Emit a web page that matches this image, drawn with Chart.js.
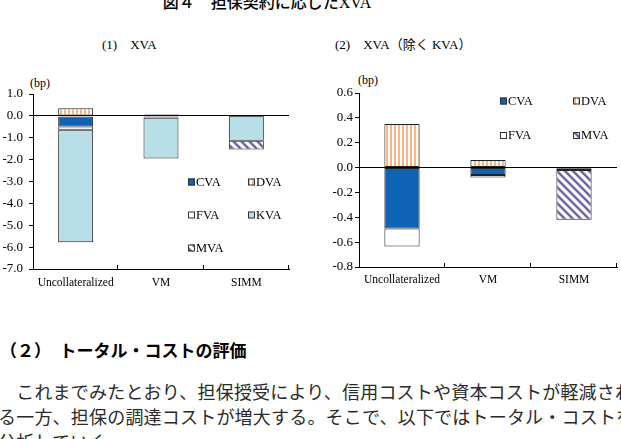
<!DOCTYPE html>
<html>
<head>
<meta charset="utf-8">
<script src="https://cdn.jsdelivr.net/npm/chart.js@4"></script>
<style>
  body { margin: 0; background: #fff; width: 621px; height: 439px; overflow: hidden; position: relative; }
  .txt { position: absolute; white-space: nowrap; color: #000; }
  .serif { font-family: "Liberation Serif", "Noto Sans CJK JP", serif; }
  .box { position: absolute; }
</style>
</head>
<body>
<div class="txt" style="left:0;width:534px;text-align:center;top:-7px;font:500 16px/17px 'Noto Sans CJK JP',sans-serif;">図４　担保契約に応じた<span style="font-family:'Liberation Serif'">XVA</span></div>
<div class="txt serif" style="left:102px;top:37px;font-size:13px;line-height:16px;">(1)　XVA</div>
<div class="txt serif" style="left:335px;top:37px;font-size:13px;line-height:16px;">(2)　XVA（除く KVA）</div>
<div class="txt serif" style="left:30px;top:76px;font-size:12px;line-height:15px;">(bp)</div>
<div class="txt serif" style="left:358px;top:73px;font-size:12px;line-height:15px;">(bp)</div>

<div class="box" style="left:0;top:60px;width:300px;height:235px;"><canvas id="chart1"></canvas></div>
<div class="box" style="left:310px;top:60px;width:311px;height:235px;"><canvas id="chart2"></canvas></div>

<div class="txt" style="left:0;top:340px;font:bold 17px/20px 'Noto Sans CJK JP',sans-serif;">（２）　トータル・コストの評価</div>
<div class="txt" style="left:-2px;top:379px;font:18px/25px 'Noto Sans CJK JP',sans-serif;letter-spacing:0.2px;color:#2a2a2a;">
　これまでみたとおり、担保授受により、信用コストや資本コストが軽減され<br>
る一方、担保の調達コストが増大する。そこで、以下ではトータル・コストを<br>
分析していく。
</div>

<script>
// values (bp)
const categories = ['Uncollateralized', 'VM', 'SIMM'];
const cva = [-0.49, -0.06, -0.01];
const dva = [0.35, 0.06, 0];
const fva = [-0.145, -0.02, -0.01];
const kva = [-5.14, -1.87, -1.12];
const mva = [0, 0, -0.40];
const yTicks1 = [1.0, 0.0, -1.0, -2.0, -3.0, -4.0, -5.0, -6.0, -7.0];
const yTicks2 = [0.6, 0.4, 0.2, 0.0, -0.2, -0.4, -0.6, -0.8];

function stripePattern(color, diagonal) {
    const c = document.createElement('canvas');
    const s = diagonal ? 8 : 4;
    c.width = s; c.height = s;
    const g = c.getContext('2d');
    g.fillStyle = '#fff';
    g.fillRect(0, 0, s, s);
    if (diagonal) {
        g.strokeStyle = color;
        g.lineWidth = 2.6;
        g.beginPath();
        g.moveTo(-2, -2); g.lineTo(s + 2, s + 2);
        g.moveTo(-2, s - 2); g.lineTo(2, s + 2);
        g.moveTo(s - 2, -2); g.lineTo(s + 2, 2);
        g.stroke();
    } else {
        g.fillStyle = color;
        g.fillRect(0, 0, 2, s);
    }
    return g.createPattern(c, 'repeat');
}

const dvaFill = stripePattern('#f7b487', false);
const mvaFill = stripePattern('#7466ae', true);

// legend drawn inside the plot, two columns
const boxLegend = {
    id: 'boxLegend',
    afterDraw(chart, args, opts) {
        const ctx = chart.ctx;
        ctx.save();
        ctx.font = '12.5px "Liberation Serif"';
        ctx.textBaseline = 'middle';
        chart.data.datasets.forEach((ds, i) => {
            const x = opts.left + (i % 2) * opts.colGap;
            const y = opts.top + Math.floor(i / 2) * opts.rowGap;
            ctx.fillStyle = ds.backgroundColor;
            ctx.fillRect(x, y - 3.5, 7, 7);
            ctx.strokeStyle = '#333';
            ctx.lineWidth = 1;
            ctx.strokeRect(x + 0.5, y - 3, 6, 6);
            ctx.fillStyle = '#000';
            ctx.fillText(ds.label, x + 8, y + 0.5);
        });
        ctx.restore();
    }
};

// small tick marks pointing up from the category axis
const innerTicks = {
    id: 'innerTicks',
    afterDraw(chart) {
        const sc = chart.scales.x;
        const ctx = chart.ctx;
        const n = sc.ticks.length;
        const b = chart.chartArea.bottom;
        ctx.save();
        ctx.strokeStyle = '#000';
        ctx.lineWidth = 1;
        ctx.beginPath();
        for (let i = 1; i <= n; i++) {
            const px = Math.round(sc.left + i * sc.width / n) - 0.5;
            ctx.moveTo(px, b);
            ctx.lineTo(px, b - 4);
        }
        ctx.stroke();
        ctx.restore();
    }
};

function makeDatasets(withKva) {
    const sets = [
        { label: 'CVA', data: cva, backgroundColor: '#0f63b6' },
        { label: 'DVA', data: dva, backgroundColor: dvaFill },
        { label: 'FVA', data: fva, backgroundColor: '#ffffff' }
    ];
    if (withKva) sets.push({ label: 'KVA', data: kva, backgroundColor: '#b8dee7' });
    sets.push({ label: 'MVA', data: mva, backgroundColor: mvaFill });
    sets.forEach(s => {
        s.borderColor = '#222';
        s.borderWidth = 1;
        s.borderSkipped = false;
        s.barPercentage = 0.41;
        s.categoryPercentage = 1;
    });
    return sets;
}

function makeChart(id, withKva, yTicks, cfg) {
    const ctx = document.getElementById(id).getContext('2d');
    return new Chart(ctx, {
        type: 'bar',
        data: { labels: categories, datasets: makeDatasets(withKva) },
        plugins: [boxLegend, innerTicks],
        options: {
            responsive: true,
            maintainAspectRatio: false,
            animation: false,
            layout: { padding: { top: cfg.top, right: cfg.right, left: 0, bottom: 0 } },
            plugins: {
                legend: { display: false },
                tooltip: { enabled: false },
                boxLegend: cfg.legend
            },
            scales: {
                x: {
                    stacked: true,
                    grid: { display: false, drawTicks: false },
                    border: { color: '#000', width: 1 },
                    ticks: { color: '#000', padding: cfg.xPad, font: { family: 'Liberation Serif', size: 11.5 } },
                    afterFit: s => { s.height = cfg.xHeight; }
                },
                y: {
                    stacked: true,
                    min: Math.min(...yTicks),
                    max: Math.max(...yTicks),
                    afterBuildTicks: s => { s.ticks = yTicks.map(v => ({ value: v })); },
                    grid: {
                        color: c => (c.tick && Math.abs(c.tick.value) < 1e-9) ? '#000' : 'rgba(0,0,0,0)',
                        tickColor: '#000',
                        tickLength: 4,
                        lineWidth: 1
                    },
                    border: { color: '#000', width: 1 },
                    ticks: {
                        color: '#000',
                        padding: cfg.yPad,
                        font: { family: 'Liberation Serif', size: 13 },
                        callback: v => (Math.abs(v) < 1e-9 ? 0 : v).toFixed(1)
                    },
                    afterFit: s => { s.width = cfg.yWidth; }
                }
            }
        }
    });
}

makeChart('chart1', true, yTicks1, {
    top: 34, right: 11, yWidth: 33, xHeight: 26, xPad: 7, yPad: 6,
    legend: { left: 188, top: 122, colGap: 60, rowGap: 33 }
});
makeChart('chart2', false, yTicks2, {
    top: 33, right: 4, yWidth: 49, xHeight: 28, xPad: 6, yPad: 2,
    legend: { left: 190, top: 41, colGap: 73, rowGap: 34.5 }
});
</script>
</body>
</html>
